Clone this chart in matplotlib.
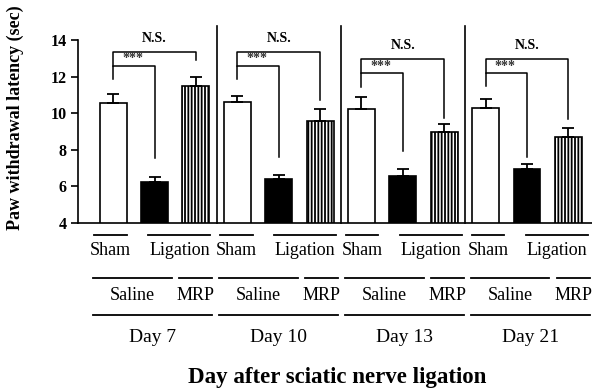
import numpy as np
import matplotlib
matplotlib.use("Agg")
from matplotlib import pyplot as plt
from matplotlib.transforms import blended_transform_factory

plt.rcParams['font.family'] = ['Liberation Serif', 'DejaVu Serif']
plt.rcParams['hatch.linewidth'] = 1.3

# data
days = ['Day 7', 'Day 10', 'Day 13', 'Day 21']
groups = ['Sham', 'Ligation', 'MRP']
means = [[10.57, 6.25, 11.5],
         [10.62, 6.41, 9.55],
         [10.23, 6.58, 8.96],
         [10.27, 6.95, 8.68]]
err = [[0.48, 0.25, 0.5],
       [0.32, 0.22, 0.7],
       [0.63, 0.35, 0.45],
       [0.5, 0.25, 0.5]]
# brackets: sham leg bottom, *** line, ligation leg bottom, N.S. line, MRP leg bottom
brackets = [[11.87, 12.6, 7.56, 13.36, 12.9],
            [11.87, 12.6, 7.61, 13.36, 10.72],
            [11.45, 12.2, 7.92, 12.98, 9.71],
            [11.5, 12.2, 7.6, 12.98, 9.67]]
row1 = ['Sham', 'Ligation']
row2 = ['Saline', 'MRP']

means = np.array(means)
err = np.array(err)

fig = plt.figure(figsize=(5.92, 3.91), dpi=100)
ax = fig.add_axes([0.132, 0.4305, 0.868, 0.503])

x = np.arange(12)
vals = means.ravel()
errs = err.ravel()
faces = ['white', 'black', 'white'] * 4
hatches = ['', '', '|||||'] * 4
bars = ax.bar(x, vals, width=0.65, bottom=0, color=faces, edgecolor='black',
              linewidth=1.2, zorder=2)
for b, h in zip(bars, hatches):
    b.set_hatch(h)
ax.errorbar(x, vals, yerr=[np.zeros_like(errs), errs], fmt='none',
            ecolor='black', elinewidth=1.3, capsize=4, capthick=1.3, zorder=3)

ax.set_ylim(4, 14.77)
ax.set_xlim(-0.845, 11.57)
ax.spines['top'].set_visible(False)
ax.spines['right'].set_visible(False)
ax.spines['left'].set_bounds(4, 14)
ax.spines['left'].set_linewidth(1.2)
ax.spines['bottom'].set_linewidth(1.2)
ax.set_yticks([4, 6, 8, 10, 12, 14])
ax.set_xticks([])
ax.tick_params(axis='y', length=5, width=1.2, pad=3.5, labelsize=11.5)
for t in ax.get_yticklabels():
    t.set_fontweight('bold')

for xd in [2.5, 5.5, 8.5]:
    ax.plot([xd, xd], [4, 14.77], color='black', lw=1.2, clip_on=False)

for g, (s_low, star_y, l_low, ns_y, m_low) in enumerate(brackets):
    xs, xl, xm = 3 * g, 3 * g + 1, 3 * g + 2
    ax.plot([xs, xs, xl, xl], [s_low, star_y, star_y, l_low], color='black', lw=1.1)
    ax.plot([xs, xs, xm, xm], [star_y, ns_y, ns_y, m_low], color='black', lw=1.1)
    ax.text(xs + 0.22, star_y + 0.02, '***', fontsize=10, fontweight='bold',
            color='#333333', ha='left', va='bottom')
    ax.text(xs + 1.0, ns_y + 0.7, 'N.S.', fontsize=10, fontweight='bold',
            ha='center', va='center')

# group labels under the axis
tr = blended_transform_factory(ax.transData, fig.transFigure)
for g, day in enumerate(days):
    o = 3.04 * g
    for (a, b), lab in zip([(-0.45, 0.33), (0.85, 2.35)], row1):
        ax.plot([o + a, o + b], [0.399, 0.399], color='black', lw=1.3,
                transform=tr, clip_on=False)
        ax.text(o + (a + b) / 2, 0.359, lab, fontsize=13, ha='center',
                va='center', transform=tr)
    for (a, b), lab in zip([(-0.48, 1.42), (1.6, 2.4)], row2):
        ax.plot([o + a, o + b], [0.289, 0.289], color='black', lw=1.3,
                transform=tr, clip_on=False)
        ax.text(o + (a + b) / 2, 0.243, lab, fontsize=13, ha='center',
                va='center', transform=tr)
    ax.plot([o - 0.48, o + 2.4], [0.194, 0.194], color='black', lw=1.3,
            transform=tr, clip_on=False)
    ax.text(o + 0.96, 0.136, day, fontsize=14, ha='center', va='center',
            transform=tr)

fig.text(0.57, 0.034, 'Day after sciatic nerve ligation', fontsize=16.5,
         fontweight='bold', ha='center', va='center')
fig.text(0.026, 0.70, 'Paw withdrawal latency (sec)', fontsize=13,
         fontweight='bold', rotation=90, ha='center', va='center')

fig.savefig('out.png', dpi=100)
